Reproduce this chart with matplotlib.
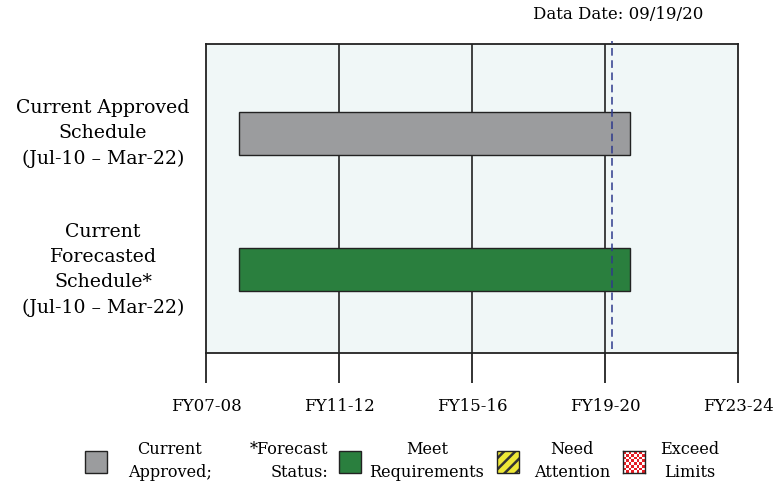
import numpy as np
import matplotlib.pyplot as plt
from matplotlib.patches import Rectangle
from matplotlib.colors import ListedColormap
from matplotlib.transforms import blended_transform_factory

plt.rcParams['font.family'] = ['DejaVu Serif']
plt.rcParams['hatch.linewidth'] = 1.8

# schedule bars (axis in fiscal-year units)
rows = ['Current Approved\nSchedule\n(Jul-10 – Mar-22)',
        'Current\nForecasted\nSchedule*\n(Jul-10 – Mar-22)']
starts = [2008.0, 2008.0]
ends = [2019.75, 2019.75]
colors = ['#9B9C9E', '#2A7F3E']
tick_pos = [2007, 2011, 2015, 2019, 2023]
tick_labels = ['FY07-08', 'FY11-12', 'FY15-16', 'FY19-20', 'FY23-24']
data_date = 2019.2
data_date_label = 'Data Date: 09/19/20'

fig = plt.figure(figsize=(7.84, 4.84), dpi=100)
ax = fig.add_axes([206 / 784, 1 - 353 / 484, 532 / 784, 309 / 484])
ax.set_facecolor('#F0F7F7')

ypos = [1, 2]
for y, s, e, c in zip(ypos, starts, ends, colors):
    ax.barh(y, e - s, left=s, height=0.316, color=c, edgecolor='#222222', linewidth=1.0, zorder=3)

ax.set_xlim(tick_pos[0], tick_pos[-1])
ax.set_ylim(2.61, 0.343)
ax.set_xticks(tick_pos)
ax.set_xticklabels(tick_labels, fontsize=12)
ax.tick_params(axis='x', direction='out', length=21.6, width=1.3, pad=11, color='#222222')
ax.set_yticks([])
for t in tick_pos[1:-1]:
    ax.axvline(t, color='#222222', linewidth=1.2, zorder=1)
for sp in ax.spines.values():
    sp.set_linewidth(1.3)
    sp.set_color('#222222')

# data date line
ax.plot([data_date, data_date], [2.58, 0.32], color='#2E3A8C', linestyle=(0, (5, 3)),
        linewidth=1.1, zorder=4, clip_on=False)
ax.text(data_date + 0.2, 0.19, data_date_label, ha='center', va='bottom', fontsize=12,
        transform=ax.transData, clip_on=False)

trans = blended_transform_factory(fig.transFigure, ax.transData)
for y, lab in zip(ypos, rows):
    ax.text(103 / 784, y, lab, ha='center', va='center', fontsize=13.6, linespacing=1.5,
            transform=trans, clip_on=False)

# legend row
bw, bh = 22 / 784, 22 / 484
by = 1 - 473 / 484


def box(x, fc, hatch=None, hc=None):
    if hatch:
        fig.patches.append(Rectangle((x, by), bw, bh, transform=fig.transFigure, facecolor=fc,
                                     hatch=hatch, edgecolor=hc, linewidth=0))
        fig.patches.append(Rectangle((x, by), bw, bh, transform=fig.transFigure, facecolor='none',
                                     edgecolor='#222222', linewidth=1.0))
    else:
        fig.patches.append(Rectangle((x, by), bw, bh, transform=fig.transFigure, facecolor=fc,
                                     edgecolor='#222222', linewidth=1.0))


ly = 1 - 461 / 484
fs = 11.6
box(85 / 784, colors[0])
fig.text(170 / 784, ly, 'Current\nApproved;', ha='center', va='center', fontsize=fs, linespacing=1.5)
fig.text(328 / 784, ly, '*Forecast\nStatus:', ha='right', va='center', fontsize=fs, linespacing=1.5,
         multialignment='right')
box(339 / 784, colors[1])
fig.text(427 / 784, ly, 'Meet\nRequirements', ha='center', va='center', fontsize=fs, linespacing=1.5)
box(497 / 784, '#EEE838', hatch='///', hc='#333333')
fig.text(572 / 784, ly, 'Need\nAttention', ha='center', va='center', fontsize=fs, linespacing=1.5)

# checkered "exceed" swatch
cax = fig.add_axes([623 / 784, by, bw, bh])
checker = np.indices((8, 8)).sum(axis=0) % 2
cax.pcolormesh(checker, cmap=ListedColormap(['#FFFFFF', '#E51E25']))
cax.set_xticks([])
cax.set_yticks([])
for sp in cax.spines.values():
    sp.set_linewidth(1.0)
    sp.set_color('#222222')
fig.text(690 / 784, ly, 'Exceed\nLimits', ha='center', va='center', fontsize=fs, linespacing=1.5)

fig.savefig('out.png', dpi=100)
